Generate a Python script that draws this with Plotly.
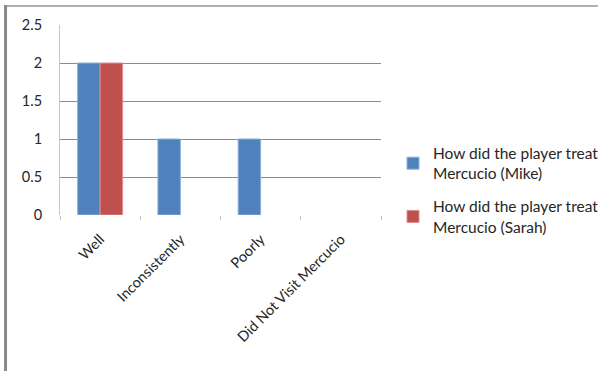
import plotly.graph_objects as go

categories = ["Well", "Inconsistently", "Poorly", "Did Not Visit Mercucio"]
mike = [2, 1, 1, 0]
sarah = [2, 0, 0, 0]
series_names = ["How did the player treat<br>Mercucio (Mike)",
                "How did the player treat<br>Mercucio (Sarah)"]
y_ticks = [0, 0.5, 1, 1.5, 2, 2.5]
y_tick_text = ["0", "0.5", "1", "1.5", "2", "2.5"]
grid_vals = [0.5, 1, 1.5, 2]

FONT = "Lato"
TXT = "#262626"

def outline(vals):
    return [1 if v > 0 else 0 for v in vals]

fig = go.Figure()
fig.add_trace(go.Bar(x=categories, y=mike, name=series_names[0], legendgroup="a",
                     marker=dict(color="#4F81BD",
                                 line=dict(color="#8fb0dc", width=outline(mike)))))
fig.add_trace(go.Bar(x=categories, y=sarah, name=series_names[1], legendgroup="b",
                     marker=dict(color="#C0504D",
                                 line=dict(color="#dc8f8d", width=outline(sarah)))))

W, H = 613, 371
L, R, T, B = 60, 223, 25, 156
pw, ph = W - L - R, H - T - B

def px_x(px):
    return (px - L) / pw

def px_y(py):
    return (H - B - py) / ph

fig.update_layout(
    width=W, height=H,
    margin=dict(l=L, r=R, t=T, b=B),
    paper_bgcolor="white", plot_bgcolor="white",
    font=dict(family=FONT, size=14, color=TXT),
    barmode="group", bargap=0.44, bargroupgap=0,
    showlegend=True,
    legend=dict(xref="container", yref="container", x=393 / W, y=1 - 190 / H,
                xanchor="left", yanchor="middle", traceorder="grouped",
                font=dict(family=FONT, size=15.5, color=TXT),
                tracegroupgap=10, itemwidth=30, bgcolor="rgba(0,0,0,0)"),
    xaxis=dict(type="category", showgrid=False, showline=False, zeroline=False,
               ticks="outside", tickson="boundaries", ticklen=4, tickcolor="#bfbfbf",
               tickangle=-45, ticklabelstandoff=12,
               tickfont=dict(family=FONT, size=14.5, color=TXT)),
    yaxis=dict(range=[0, 2.5], tickvals=y_ticks, ticktext=y_tick_text,
               showgrid=False, zeroline=False, showline=True, linecolor="#c8c8c8",
               linewidth=1, ticks="", ticklabelstandoff=14,
               tickfont=dict(family=FONT, size=14.5, color=TXT),
               minor=dict(tickvals=grid_vals, showgrid=True, gridcolor="#8c8c8c",
                          gridwidth=1, ticks="")),
    shapes=[
        dict(type="line", xref="paper", yref="paper",
             x0=px_x(4), x1=px_x(W), y0=px_y(6), y1=px_y(6),
             line=dict(color="#b0b0b0", width=2)),
        dict(type="line", xref="paper", yref="paper",
             x0=px_x(4), x1=px_x(4), y0=px_y(5), y1=px_y(H),
             line=dict(color="#8a8a8a", width=3)),
    ],
)

fig.write_html("out.html")
